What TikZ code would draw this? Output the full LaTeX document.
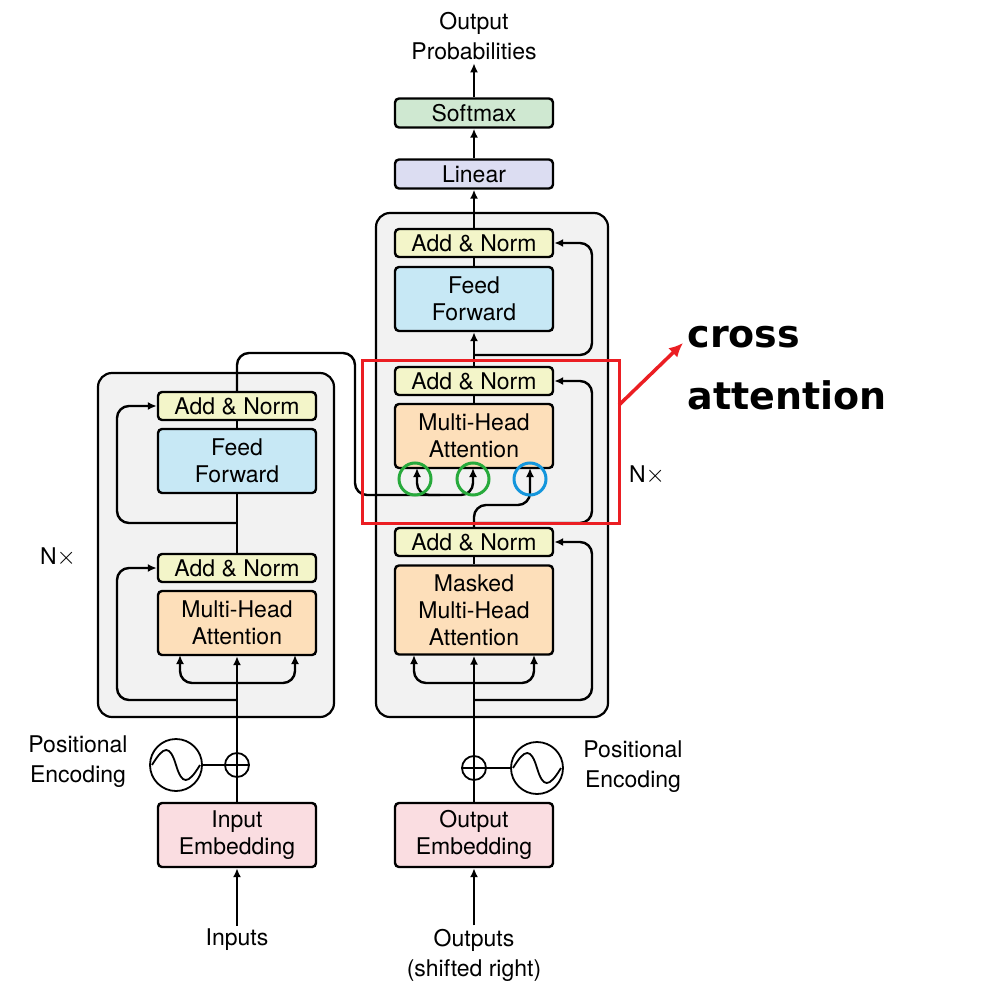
\documentclass[tikz,border=0pt]{standalone}
\usepackage{fontspec}
\setmainfont{TeX Gyre Heros}
\newfontfamily\boldsans{DejaVu Sans}
\usetikzlibrary{positioning,arrows.meta}
\definecolor{normfill}{RGB}{243,245,201}
\definecolor{fffill}{RGB}{199,232,245}
\definecolor{attfill}{RGB}{253,223,186}
\definecolor{linfill}{RGB}{220,221,242}
\definecolor{smfill}{RGB}{207,232,209}
\definecolor{embfill}{RGB}{250,221,225}
\definecolor{blockfill}{RGB}{242,242,242}
\definecolor{crossred}{RGB}{235,30,35}
\definecolor{kgreen}{RGB}{40,170,60}
\definecolor{vblue}{RGB}{20,150,220}
\tikzset{
    layer/.style={draw, line width=2.4pt, rounded corners=4pt, minimum width=158pt,
        align=center, inner sep=1pt, font=\fontsize{23}{27}\selectfont},
    block/.style={draw, line width=2.2pt, rounded corners=14pt, fill=blockfill},
    flow/.style={line width=2.4pt, -{Latex[length=9pt,width=8pt]}},
    wire/.style={line width=2.4pt, rounded corners=12pt},
    lbl/.style={align=center, font=\fontsize{23}{30}\selectfont}
}
\begin{document}
\begin{tikzpicture}[x=1pt, y=-1pt]
\useasboundingbox (0,0) rectangle (983,995);
% blocks
\draw[block] (98,373) rectangle (334,717);
\draw[block] (376,213) rectangle (608,717);
% encoder
\node[layer, fill=embfill, minimum height=64pt] (inemb) at (237,835) {Input\\Embedding};
\node[layer, fill=attfill, minimum height=64pt] (encatt) at (237,623) {Multi-Head\\Attention};
\node[layer, fill=normfill, minimum height=28pt] (encnorm1) at (237,568) {Add \& Norm};
\node[layer, fill=fffill, minimum height=64pt] (encff) at (237,461) {Feed\\Forward};
\node[layer, fill=normfill, minimum height=28pt] (encnorm2) at (237,406) {Add \& Norm};
\node[lbl] (inputs) at (237,940) {Inputs};
\node[draw, circle, line width=1.8pt, minimum size=24pt, inner sep=0pt] (encplus) at (237,765) {};
\draw[line width=1.6pt] (encplus.north) -- (encplus.south) (encplus.west) -- (encplus.east);
\node[draw, circle, line width=1.8pt, minimum size=52pt] (encpos) at (176,765) {};
\draw[line width=1.8pt] (152,765) .. controls (164,745) and (170,745) .. (176,765) .. controls (182,785) and (188,785) .. (200,765);
\node[lbl] at (78,762) {Positional\\Encoding};
\node[lbl] at (58,557) {N$\times$};
% decoder
\node[layer, fill=embfill, minimum height=64pt] (outemb) at (474,835) {Output\\Embedding};
\node[layer, fill=attfill, minimum height=89pt] (maskatt) at (474,610) {Masked\\Multi-Head\\Attention};
\node[layer, fill=normfill, minimum height=28pt] (decnorm1) at (474,542) {Add \& Norm};
\node[layer, fill=attfill, minimum height=64pt] (crossatt) at (474,436) {Multi-Head\\Attention};
\node[layer, fill=normfill, minimum height=28pt] (decnorm2) at (474,381) {Add \& Norm};
\node[layer, fill=fffill, minimum height=64pt] (decff) at (474,299) {Feed\\Forward};
\node[layer, fill=normfill, minimum height=28pt] (decnorm3) at (474,243) {Add \& Norm};
\node[layer, fill=linfill, minimum height=29pt] (linear) at (474,174) {Linear};
\node[layer, fill=smfill, minimum height=29pt] (softmax) at (474,113) {Softmax};
\node[lbl] (outprob) at (474,36) {Output\\Probabilities};
\node[lbl] (outputs) at (474,955) {Outputs\\(shifted right)};
\node[draw, circle, line width=1.8pt, minimum size=24pt, inner sep=0pt] (decplus) at (474,768) {};
\draw[line width=1.6pt] (decplus.north) -- (decplus.south) (decplus.west) -- (decplus.east);
\node[draw, circle, line width=1.8pt, minimum size=52pt] (decpos) at (537,768) {};
\draw[line width=1.8pt] (513,768) .. controls (525,748) and (531,748) .. (537,768) .. controls (543,788) and (549,788) .. (561,768);
\node[lbl] at (633,767) {Positional\\Encoding};
\node[lbl] at (647,475) {N$\times$};
% encoder flow
\draw[flow] (inputs.north) -- (inemb.south);
\draw[line width=2.4pt] (inemb.north) -- (encplus.south);
\draw[line width=2pt] (encpos.east) -- (encplus.west);
\draw[flow] (encplus.north) -- (encatt.south);
\draw[flow, rounded corners=12pt] (237,683) -| (180,655);
\draw[flow, rounded corners=12pt] (237,683) -| (295,655);
\draw[flow, rounded corners=12pt] (237,700) -| (117,568) -- (encnorm1.west);
\draw[line width=2.4pt] (encnorm1.north) -- (encff.south);
\draw[flow, rounded corners=12pt] (237,523) -| (117,406) -- (encnorm2.west);
\draw[line width=2.4pt] (encff.north) -- (encnorm2.south);
% decoder flow
\draw[flow] (outputs.north) -- (outemb.south);
\draw[line width=2.4pt] (outemb.north) -- (decplus.south);
\draw[line width=2pt] (decpos.west) -- (decplus.east);
\draw[flow] (decplus.north) -- (maskatt.south);
\draw[flow, rounded corners=12pt] (474,683) -| (414,655);
\draw[flow, rounded corners=12pt] (474,683) -| (534,655);
\draw[flow, rounded corners=12pt] (474,700) -| (592,542) -- (decnorm1.east);
\draw[line width=2.4pt] (maskatt.north) -- (decnorm1.south);
\draw[flow, wire] (decnorm1.north) |- (530,505) -- (530,468);
\draw[flow, wire] (474,523) -| (592,381) -- (decnorm2.east);
\draw[flow, wire] (encnorm2.north) |- (355,353) |- (473,495) -- (473,468);
\draw[flow, wire] (440,495) -| (417,468);
\draw[line width=2.4pt] (crossatt.north) -- (decnorm2.south);
\draw[flow] (decnorm2.north) -- (decff.south);
\draw[flow, wire] (474,355) -| (592,243) -- (decnorm3.east);
\draw[line width=2.4pt] (decff.north) -- (decnorm3.south);
\draw[flow] (decnorm3.north) -- (linear.south);
\draw[flow] (linear.north) -- (softmax.south);
\draw[flow] (softmax.north) -- (outprob.south);
% highlights
\draw[kgreen, line width=3pt] (415,479) circle (16pt);
\draw[kgreen, line width=3pt] (473,479) circle (16pt);
\draw[vblue, line width=3pt] (530,479) circle (16pt);
\draw[crossred, line width=3pt] (362,360) rectangle (619,523);
\coordinate (redtip) at (683,343);
\draw[crossred, line width=3.5pt, -{Latex[length=14pt,width=13pt]}] (619,405) -- (redtip);
\node[anchor=west, align=left, font=\boldsans\bfseries\fontsize{38}{62}\selectfont] at (684,368) {cross\\attention};
\end{tikzpicture}
\end{document}
